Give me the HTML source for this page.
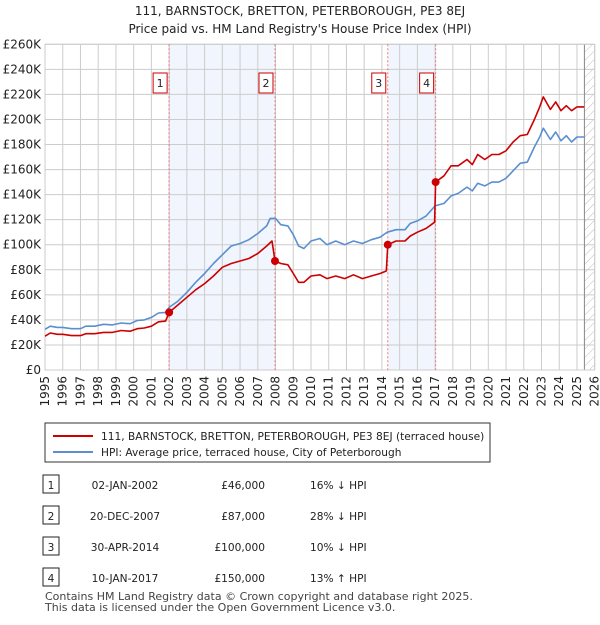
<!DOCTYPE html>
<html><head><meta charset="utf-8"><style>
body{margin:0;background:#fff;font-family:"Liberation Sans","DejaVu Sans",sans-serif;}
svg text{font-family:"DejaVu Sans","Liberation Sans",sans-serif;}
</style></head><body>
<svg id="c" width="600" height="620" xmlns="http://www.w3.org/2000/svg">
<defs><pattern id="hatch" width="6" height="6" patternUnits="userSpaceOnUse" patternTransform="rotate(45)"><line x1="0" y1="0" x2="0" y2="6" stroke="#bbb" stroke-width="1"/></pattern></defs>
<text x="300" y="15" text-anchor="middle" font-size="12" fill="#222">111, BARNSTOCK, BRETTON, PETERBOROUGH, PE3 8EJ</text>
<text x="300" y="33" text-anchor="middle" font-size="12" fill="#222">Price paid vs. HM Land Registry's House Price Index (HPI)</text>
<g id="plot"></g>
<g>
<rect x="45" y="423" width="445" height="39" fill="#fff" stroke="#333" stroke-width="1"/>
<line x1="53" y1="436" x2="93" y2="436" stroke="#cc0000" stroke-width="2"/>
<text x="101" y="440" font-size="10.6" fill="#222">111, BARNSTOCK, BRETTON, PETERBOROUGH, PE3 8EJ (terraced house)</text>
<line x1="53" y1="452" x2="93" y2="452" stroke="#5b8fd0" stroke-width="2"/>
<text x="101" y="456" font-size="10.6" fill="#222">HPI: Average price, terraced house, City of Peterborough</text>
</g>
<g id="table" fill="#222"></g>
<text x="45" y="600" font-size="11" fill="#444">Contains HM Land Registry data © Crown copyright and database right 2025.</text>
<text x="45" y="611" font-size="11" fill="#444">This data is licensed under the Open Government Licence v3.0.</text>
</svg>
<script>
const yTicks=[0,20,40,60,80,100,120,140,160,180,200,220,240,260];
const years=[1995,1996,1997,1998,1999,2000,2001,2002,2003,2004,2005,2006,2007,2008,2009,2010,2011,2012,2013,2014,2015,2016,2017,2018,2019,2020,2021,2022,2023,2024,2025,2026];
const hpiDates=[1995.0,1995.3,1995.7,1996.0,1996.5,1997.0,1997.3,1997.8,1998.3,1998.8,1999.3,1999.8,2000.2,2000.6,2001.0,2001.4,2001.8,2002.0,2002.5,2003.0,2003.5,2004.0,2004.5,2005.0,2005.5,2006.0,2006.5,2007.0,2007.5,2007.7,2008.0,2008.3,2008.7,2009.0,2009.3,2009.6,2010.0,2010.5,2010.9,2011.4,2011.9,2012.4,2012.9,2013.4,2013.9,2014.3,2014.8,2015.3,2015.6,2016.0,2016.5,2017.0,2017.5,2017.9,2018.3,2018.8,2019.1,2019.4,2019.8,2020.2,2020.6,2021.0,2021.4,2021.8,2022.2,2022.6,2022.9,2023.1,2023.5,2023.8,2024.1,2024.4,2024.7,2025.0,2025.4];
const hpiValues=[32.5,35,34,34,33,33,35,35,36.5,36,37.5,37,39.5,40,42,45.5,46,50,55,62,70,77,85,92,99,101,104,109,115,121,121,116,115,108,99,97,103,105,100,103,100,103,101,104,106,110,112,112,117,119,123,131,133,139,141,146,143,149,147,150,150,153,159,165,166,178,186,193,184,190,183,187,182,186,186];
const propDates=[1995.0,1995.3,1995.7,1996.0,1996.5,1997.0,1997.3,1997.8,1998.3,1998.8,1999.3,1999.8,2000.2,2000.6,2001.0,2001.4,2001.8,2002.0,2002.5,2003.0,2003.5,2004.0,2004.5,2005.0,2005.5,2006.0,2006.5,2007.0,2007.5,2007.8,2007.97,2008.3,2008.7,2009.0,2009.3,2009.6,2010.0,2010.5,2010.9,2011.4,2011.9,2012.4,2012.9,2013.4,2013.9,2014.25,2014.33,2014.8,2015.3,2015.6,2016.0,2016.5,2016.97,2017.03,2017.5,2017.9,2018.3,2018.8,2019.1,2019.4,2019.8,2020.2,2020.6,2021.0,2021.4,2021.8,2022.2,2022.6,2022.9,2023.1,2023.5,2023.8,2024.1,2024.4,2024.7,2025.0,2025.4];
const propValues=[27,29.5,28.5,28.5,27.5,27.5,29,29,30,30,31.5,31,33,33.5,35,38.5,39,46,52,58,64,69,75,82,85,87,89,93,99,103,87,85,84,77,70,70,75,76,73,75,73,76,73,75,77,79,100,103,103,107,110,113,118,150,155,163,163,168,164,172,168,172,172,175,182,187,188,200,210,218,208,214,207,211,207,210,210];
const saleLabels=["1","2","3","4"];
const saleDates=[2002.0,2007.97,2014.33,2017.03];
const salePrices=[46,87,100,150];
const saleDateText=["02-JAN-2002","20-DEC-2007","30-APR-2014","10-JAN-2017"];
const salePriceText=["£46,000","£87,000","£100,000","£150,000"];
const saleHpiText=["16% ↓ HPI","28% ↓ HPI","10% ↓ HPI","13% ↑ HPI"];

const NS="http://www.w3.org/2000/svg";
const L=45,R=594.7,T=44.3,B=370;
const X=t=>L+(t-1995)/(2026-1995)*(R-L);
const Y=v=>B-v/260*(B-T);
const plot=document.getElementById('plot');
function mk(tag,attrs,parent){const e=document.createElementNS(NS,tag);for(const k in attrs)e.setAttribute(k,attrs[k]);(parent||plot).appendChild(e);return e;}
for(const [a,b] of [[0,1],[2,3]]){
 const r=mk('rect',{x:X(saleDates[a]),y:T,width:X(saleDates[b])-X(saleDates[a]),height:B-T,fill:'#f1f5fd'});
 
 
}
const hz=mk('rect',{x:X(2025.42),y:T,width:R-X(2025.42),height:B-T,fill:'url(#hatch)'});


yTicks.forEach(v=>{
 const l=mk('line',{x1:L,x2:R,y1:Y(v),y2:Y(v),stroke:'#ccc','stroke-width':1});
 
 
 const t=mk('text',{x:L-4,y:Y(v)+4,'text-anchor':'end','font-size':12,fill:'#222'});
 t.textContent=v===0?'£0':'£'+v+'K';
 
 
});
years.forEach(y=>{
 const l=mk('line',{x1:X(y),x2:X(y),y1:T,y2:B,stroke:'#ccc','stroke-width':1});
 
 
 const t=mk('text',{x:0,y:0,'text-anchor':'end','font-size':12,fill:'#222',transform:`translate(${X(y)+4},${B+6}) rotate(-90)`});
 t.textContent=y;
 
 
});
const hl=mk('line',{x1:X(2025.42),x2:X(2025.42),y1:T,y2:B,stroke:'#888','stroke-width':1});


const frame=mk('rect',{x:L,y:T,width:R-L,height:B-T,fill:'none',stroke:'#ccc'});


saleDates.forEach((d,i)=>{
 const l=mk('line',{x1:X(d),x2:X(d),y1:T,y2:B,stroke:'#e86060','stroke-width':1,'stroke-dasharray':'2,2',opacity:0.8});
 
 
});
function path(ds,vs,col,name){
 const p=mk('path',{d:ds.map((d,i)=>(i?'L':'M')+X(d).toFixed(1)+','+Y(vs[i]).toFixed(1)).join(''),fill:'none',stroke:col,'stroke-width':1.6,'stroke-linejoin':'round'});
 
 
}
path(hpiDates,hpiValues,'#5b8fd0','hpi-line');
path(propDates,propValues,'#cc0000','property-price-line');
saleDates.forEach((d,i)=>{
 const c=mk('circle',{cx:X(d),cy:Y(salePrices[i]),r:4,fill:'#cc0000'});
 
 
 const g=mk('g',{});
 
 
 mk('rect',{x:X(d)-16,y:73,width:14,height:20,fill:'#fff',stroke:'#cc0000'},g);
 const t=mk('text',{x:X(d)-9,y:87,'text-anchor':'middle','font-size':11,fill:'#222'},g);
 t.textContent=saleLabels[i];
});
const tb=document.getElementById('table');
saleLabels.forEach((s,i)=>{
 const y=487+i*31;
 const g=mk('g',{},tb);
 
 
 mk('rect',{x:43,y:y-12,width:16,height:18,fill:'#fff',stroke:'#222'},g);
 const a=mk('text',{x:51,y:y+2,'text-anchor':'middle','font-size':10.6},g);a.textContent=s;
 const b=mk('text',{x:125,y:y+2,'text-anchor':'middle','font-size':10.6},g);b.textContent=saleDateText[i];
 const c=mk('text',{x:265,y:y+2,'text-anchor':'end','font-size':10.6},g);c.textContent=salePriceText[i];
 const e=mk('text',{x:310,y:y+2,'font-size':10.6},g);e.textContent=saleHpiText[i];
});
</script>
</body></html>
